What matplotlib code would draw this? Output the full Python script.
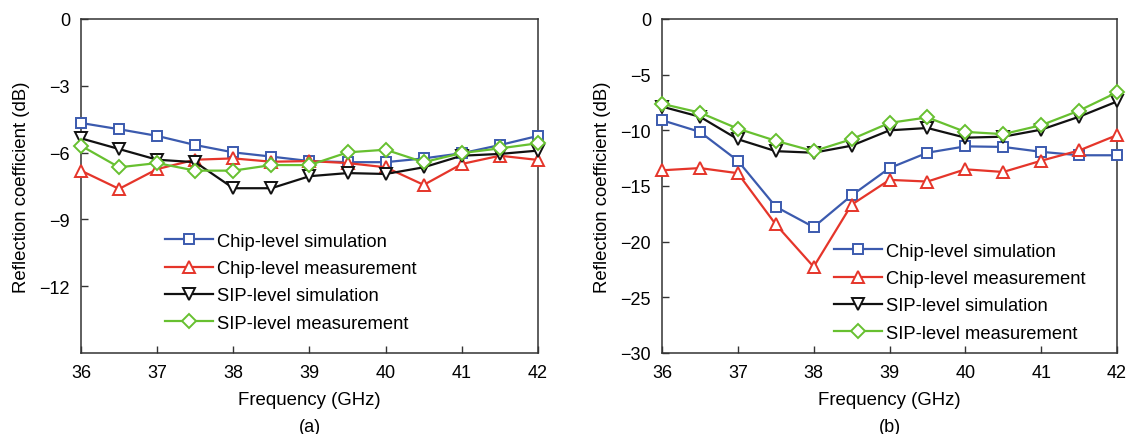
import numpy as np
import matplotlib
matplotlib.use("Agg")
import matplotlib.pyplot as plt

plt.rcParams['font.family'] = ['Liberation Sans', 'DejaVu Sans']

freq = [36, 36.5, 37, 37.5, 38, 38.5, 39, 39.5, 40, 40.5, 41, 41.5, 42]

# (a) reflection coefficient, dB
chip_sim_a = [-4.67, -4.95, -5.25, -5.66, -5.99, -6.18, -6.38, -6.43, -6.43, -6.26, -6.03, -5.66, -5.25]
chip_meas_a = [-6.81, -7.63, -6.74, -6.32, -6.26, -6.41, -6.38, -6.47, -6.66, -7.45, -6.51, -6.14, -6.33]
sip_sim_a = [-5.36, -5.84, -6.32, -6.43, -7.60, -7.60, -7.06, -6.92, -6.96, -6.66, -6.14, -6.06, -5.91]
sip_meas_a = [-5.69, -6.66, -6.47, -6.81, -6.81, -6.56, -6.56, -5.99, -5.87, -6.43, -6.02, -5.81, -5.58]

# (b) reflection coefficient, dB
chip_sim_b = [-9.09, -10.14, -12.73, -16.86, -18.69, -15.85, -13.39, -12.01, -11.44, -11.49, -11.93, -12.24, -12.24]
chip_meas_b = [-13.59, -13.39, -13.85, -18.45, -22.26, -16.68, -14.45, -14.60, -13.50, -13.74, -12.73, -11.81, -10.43]
sip_sim_b = [-7.87, -8.78, -10.80, -11.87, -12.01, -11.38, -10.00, -9.79, -10.66, -10.57, -9.94, -8.78, -7.41]
sip_meas_b = [-7.62, -8.41, -9.85, -10.94, -11.87, -10.80, -9.33, -8.84, -10.14, -10.34, -9.54, -8.23, -6.59]

labels = ['Chip-level simulation', 'Chip-level measurement',
          'SIP-level simulation', 'SIP-level measurement']
colors = ['#3b5aae', '#e5352a', '#111111', '#67c030']
markers = ['s', '^', 'v', 'D']
msizes = [7, 8, 8, 7]

W, H = 1131, 435
fig = plt.figure(figsize=(W / 100, H / 100), dpi=100)
ax_a = fig.add_axes([81 / W, (H - 354) / H, 457 / W, 334 / H])
ax_b = fig.add_axes([662 / W, (H - 354) / H, 455 / W, 334 / H])


def draw(ax, series, yticks, ylim, leg_anchor, tag):
    for ys, lab, c, m, ms in zip(series, labels, colors, markers, msizes):
        ax.plot(freq, ys, color=c, lw=1.6, marker=m, ms=ms, mfc='white',
                mec=c, mew=1.4, label=lab, clip_on=False, zorder=3)
    ax.set_xlim(36, 42)
    ax.set_ylim(*ylim)
    ax.set_xticks(range(36, 43))
    ax.set_yticks(yticks)
    ax.tick_params(direction='in', length=5, width=1, labelsize=13,
                   color='#333333', pad=8)
    for s in ax.spines.values():
        s.set_color('#333333')
        s.set_linewidth(1.1)
    ax.set_xlabel('Frequency (GHz)', fontsize=13.4, labelpad=7)
    ax.set_ylabel('Reflection coefficient (dB)', fontsize=13.4, labelpad=7)
    ax.legend(loc='upper left', bbox_to_anchor=leg_anchor, frameon=False,
              fontsize=13.2, handlelength=2.6, handletextpad=0.25,
              labelspacing=0.56, borderpad=0, borderaxespad=0)
    ax.text(0.5, -0.195, tag, transform=ax.transAxes, ha='center', va='top',
            fontsize=13)


draw(ax_a, [chip_sim_a, chip_meas_a, sip_sim_a, sip_meas_a],
     [0, -3, -6, -9, -12], (-15, 0), (0.184, 0.36), '(a)')
draw(ax_b, [chip_sim_b, chip_meas_b, sip_sim_b, sip_meas_b],
     [0, -5, -10, -15, -20, -25, -30], (-30, 0), (0.378, 0.33), '(b)')

fig.savefig('out.png', dpi=100)
